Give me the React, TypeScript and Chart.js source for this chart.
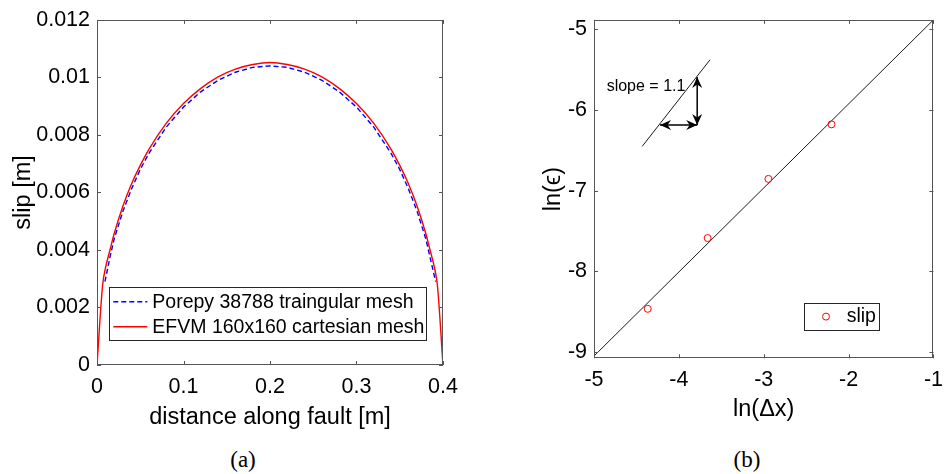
import React, { useEffect, useRef } from 'react';
import { Chart, registerables } from 'chart.js';
Chart.register(...registerables);

// ---------- (a) slip along fault ----------
const distRed = [0, 0.0065, 0.01, 0.015, 0.02, 0.03, 0.04, 0.05, 0.06, 0.08, 0.1, 0.12, 0.14, 0.16, 0.18, 0.2, 0.22, 0.24, 0.26, 0.28, 0.3, 0.32, 0.34, 0.35, 0.36, 0.37, 0.38, 0.385, 0.39, 0.3935, 0.4];
const slipRed = [0, 0.00278, 0.0034, 0.004, 0.00458, 0.00553, 0.0063, 0.00694, 0.0075, 0.0084, 0.00909, 0.00962, 0.01002, 0.01029, 0.01045, 0.01052, 0.01045, 0.01029, 0.01002, 0.00962, 0.00909, 0.0084, 0.0075, 0.00694, 0.0063, 0.00553, 0.00458, 0.004, 0.0034, 0.00278, 0];
const distBlue = [0.0092, 0.015, 0.02, 0.03, 0.04, 0.05, 0.06, 0.08, 0.1, 0.12, 0.14, 0.16, 0.18, 0.2, 0.22, 0.24, 0.26, 0.28, 0.3, 0.32, 0.34, 0.35, 0.36, 0.37, 0.38, 0.385, 0.3915];
const slipBlue = [0.0029, 0.00375, 0.0044, 0.00535, 0.00613, 0.0068, 0.00736, 0.00827, 0.00897, 0.0095, 0.0099, 0.01018, 0.01035, 0.0104, 0.01035, 0.01018, 0.0099, 0.0095, 0.00897, 0.00827, 0.00736, 0.0068, 0.00613, 0.00535, 0.0044, 0.00375, 0.0029];
const labelBlue = 'Porepy 38788 traingular mesh';
const labelRed = 'EFVM 160x160 cartesian mesh';
const xTicksA = [0, 0.1, 0.2, 0.3, 0.4];
const yTicksA = [0, 0.002, 0.004, 0.006, 0.008, 0.01, 0.012];

// ---------- (b) convergence ----------
const lnDx = [-4.367, -3.661, -2.945, -2.201];
const lnErr = [-8.463, -7.586, -6.853, -6.177];
const fitX = [-5, -1];
const fitY = [-9.048, -4.883];
const slopeLineX = [-4.432, -3.632];
const slopeLineY = [-6.45, -5.376];
const arrowHX = [-4.222, -3.784];
const arrowHY = [-6.186, -6.186];
const arrowVX = [-3.784, -3.784];
const arrowVY = [-6.186, -5.592];
const slopeText = 'slope = 1.1';
const slopeTextPos = [-4.851, -5.712];
const xTicksB = [-5, -4, -3, -2, -1];
const yTicksB = [-9, -8, -7, -6, -5];
const yRangeB = [-9.076, -4.883];

const AX = '#262626';
const BOX = '#555555';
const SANS = "'Liberation Sans', Arial, sans-serif";
const fmt = (v: any) => String(Number(Number(v).toFixed(6)));

const boxPlugin = {
  id: 'matlabBox',
  afterDatasetsDraw(chart: any) {
    const { ctx, chartArea, scales } = chart;
    const { left, top, right, bottom } = chartArea;
    ctx.save();
    ctx.strokeStyle = BOX;
    ctx.lineWidth = 1;
    ctx.strokeRect(Math.round(left) + 0.5, Math.round(top) + 0.5, Math.round(right - left) - 1, Math.round(bottom - top) - 1);
    ctx.beginPath();
    scales.x.ticks.forEach((t: any) => {
      const px = Math.round(scales.x.getPixelForValue(t.value)) + 0.5;
      ctx.moveTo(px, bottom); ctx.lineTo(px, bottom - 4);
      ctx.moveTo(px, top); ctx.lineTo(px, top + 4);
    });
    scales.y.ticks.forEach((t: any) => {
      const py = Math.round(scales.y.getPixelForValue(t.value)) + 0.5;
      ctx.moveTo(left, py); ctx.lineTo(left + 4, py);
      ctx.moveTo(right, py); ctx.lineTo(right - 4, py);
    });
    ctx.stroke();
    ctx.restore();
  },
};

const legendA = {
  id: 'legendA',
  afterDraw(chart: any) {
    const { ctx, chartArea } = chart;
    const l = chartArea.left + 12.3;
    const r = chartArea.right - 17;
    const b = chartArea.bottom - 25;
    const t = b - 53.3;
    ctx.save();
    ctx.fillStyle = '#ffffff';
    ctx.fillRect(l, t, r - l, b - t);
    ctx.strokeStyle = AX;
    ctx.lineWidth = 1;
    ctx.strokeRect(Math.round(l) + 0.5, Math.round(t) + 0.5, Math.round(r - l), Math.round(b - t));
    const ds = chart.data.datasets;
    const rows = [t + 15, t + 40];
    ds.forEach((d: any, i: number) => {
      const y = rows[i];
      ctx.beginPath();
      ctx.strokeStyle = d.borderColor;
      ctx.lineWidth = d.borderWidth;
      ctx.setLineDash(d.borderDash || []);
      ctx.moveTo(l + 4, y); ctx.lineTo(l + 38, y);
      ctx.stroke();
      ctx.setLineDash([]);
      ctx.fillStyle = '#000';
      ctx.font = `19.5px ${SANS}`;
      ctx.textBaseline = 'middle';
      ctx.textAlign = 'left';
      ctx.fillText(d.label, l + 43, y + 1);
    });
    ctx.restore();
  },
};

function head(ctx: any, tx: number, ty: number, dx: number, dy: number) {
  const L = 11, W = 5, N = 7.5;
  const px = -dy, py = dx;
  ctx.beginPath();
  ctx.moveTo(tx, ty);
  ctx.lineTo(tx - L * dx + W * px, ty - L * dy + W * py);
  ctx.lineTo(tx - N * dx, ty - N * dy);
  ctx.lineTo(tx - L * dx - W * px, ty - L * dy - W * py);
  ctx.closePath();
  ctx.fill();
}

function dblArrow(ctx: any, x1: number, y1: number, x2: number, y2: number) {
  const len = Math.hypot(x2 - x1, y2 - y1);
  const dx = (x2 - x1) / len, dy = (y2 - y1) / len;
  ctx.beginPath();
  ctx.moveTo(x1, y1); ctx.lineTo(x2, y2);
  ctx.stroke();
  head(ctx, x2, y2, dx, dy);
  head(ctx, x1, y1, -dx, -dy);
}

const annotB = {
  id: 'annotB',
  afterDraw(chart: any) {
    const { ctx, chartArea, scales } = chart;
    const X = (v: number) => scales.x.getPixelForValue(v);
    const Y = (v: number) => scales.y.getPixelForValue(v);
    ctx.save();
    ctx.strokeStyle = '#000';
    ctx.fillStyle = '#000';
    ctx.lineWidth = 1.5;
    dblArrow(ctx, X(arrowHX[0]), Y(arrowHY[0]), X(arrowHX[1]), Y(arrowHY[1]));
    dblArrow(ctx, X(arrowVX[0]), Y(arrowVY[0]), X(arrowVX[1]), Y(arrowVY[1]));
    ctx.font = `16px ${SANS}`;
    ctx.textBaseline = 'middle';
    ctx.textAlign = 'left';
    ctx.fillText(slopeText, X(slopeTextPos[0]), Y(slopeTextPos[1]));

    // legend
    const l = chartArea.left + 210.3;
    const t = chartArea.top + 282.7;
    const w = 74.7, h = 27.3;
    ctx.fillStyle = '#fff';
    ctx.fillRect(l, t, w, h);
    ctx.strokeStyle = AX;
    ctx.lineWidth = 1;
    ctx.strokeRect(Math.round(l) + 0.5, Math.round(t) + 0.5, Math.round(w), Math.round(h));
    const d = chart.data.datasets[0];
    ctx.beginPath();
    ctx.strokeStyle = d.borderColor;
    ctx.arc(l + 21.7, t + 14, d.pointRadius, 0, Math.PI * 2);
    ctx.stroke();
    ctx.fillStyle = '#000';
    ctx.font = `19.5px ${SANS}`;
    ctx.fillText(d.label, l + 42.4, t + 14.5);
    ctx.restore();
  },
};

function axisCfg(min: number, max: number, ticks: number[], fitSize: number, horiz: boolean, title: string, titlePad: any) {
  return {
    type: 'linear',
    min, max,
    afterBuildTicks: (s: any) => { s.ticks = ticks.map((v) => ({ value: v })); },
    afterFit: (s: any) => { if (horiz) s.height = fitSize; else s.width = fitSize; },
    grid: { display: false, drawTicks: false },
    border: { display: false },
    ticks: { font: { family: SANS, size: 21.5 }, color: '#000', padding: horiz ? 9 : 7, maxRotation: 0, autoSkip: false, callback: fmt },
    title: { display: true, text: title, font: { family: SANS, size: 23.5 }, color: '#000', padding: titlePad },
  };
}

export default function App() {
  const refA = useRef<HTMLCanvasElement>(null);
  const refB = useRef<HTMLCanvasElement>(null);

  useEffect(() => {
    const chartA = new Chart(refA.current as HTMLCanvasElement, {
      type: 'line',
      data: {
        datasets: [
          { label: labelBlue, data: distBlue.map((x, i) => ({ x, y: slipBlue[i] })), borderColor: '#0000ff', borderWidth: 1.4, borderDash: [5, 3], pointRadius: 0, tension: 0, fill: false },
          { label: labelRed, data: distRed.map((x, i) => ({ x, y: slipRed[i] })), borderColor: '#ff0000', borderWidth: 1.4, pointRadius: 0, tension: 0.3, cubicInterpolationMode: 'monotone', fill: false },
        ],
      },
      options: {
        animation: false, responsive: false, maintainAspectRatio: false, events: [],
        layout: { padding: { left: 0, top: 12, right: 33, bottom: 0 } },
        plugins: { legend: { display: false }, tooltip: { enabled: false } },
        scales: {
          x: axisCfg(0, 0.4, xTicksA, 75, true, 'distance along fault [m]', { top: 0, bottom: 8 }),
          y: axisCfg(0, 0.012, yTicksA, 97, false, 'slip [m]', { top: 9, bottom: 0 }),
        },
      } as any,
      plugins: [boxPlugin, legendA],
    } as any);

    const chartB = new Chart(refB.current as HTMLCanvasElement, {
      type: 'line',
      data: {
        datasets: [
          { label: 'slip', data: lnDx.map((x, i) => ({ x, y: lnErr[i] })), showLine: false, borderColor: '#ff0000', backgroundColor: 'rgba(0,0,0,0)', pointRadius: 3.5, pointBorderWidth: 1, pointStyle: 'circle' },
          { label: 'fit', data: fitX.map((x, i) => ({ x, y: fitY[i] })), borderColor: '#000', borderWidth: 0.9, pointRadius: 0, fill: false },
          { label: 'slopeLine', data: slopeLineX.map((x, i) => ({ x, y: slopeLineY[i] })), borderColor: '#000', borderWidth: 0.9, pointRadius: 0, fill: false },
        ],
      },
      options: {
        animation: false, responsive: false, maintainAspectRatio: false, events: [],
        layout: { padding: { left: 0, top: 9.3, right: 8.7, bottom: 0 } },
        plugins: { legend: { display: false }, tooltip: { enabled: false } },
        scales: {
          x: axisCfg(-5, -1, xTicksB, 81.7, true, 'ln(Δx)', { top: 0, bottom: 16.7 }),
          y: axisCfg(yRangeB[0], yRangeB[1], yTicksB, 64, false, 'ln(ϵ)', { top: 9.5, bottom: 0 }),
        },
      } as any,
      plugins: [boxPlugin, annotB],
    } as any);

    return () => { chartA.destroy(); chartB.destroy(); };
  }, []);

  const capStyle: React.CSSProperties = {
    position: 'absolute', top: 459, transform: 'translate(-50%, -50%)',
    fontFamily: "'Liberation Serif', 'Times New Roman', serif", fontSize: 23, lineHeight: 1, color: '#000', whiteSpace: 'nowrap',
  };

  return (
    <div style={{ position: 'fixed', left: 0, top: 0, width: 952, height: 474, background: '#fff', overflow: 'hidden' }}>
      <canvas ref={refA} width={476} height={440} style={{ position: 'absolute', left: 0, top: 0, width: 476, height: 440 }} />
      <canvas ref={refB} width={422} height={440} style={{ position: 'absolute', left: 530, top: 0, width: 422, height: 440 }} />
      <div style={{ ...capStyle, left: 243 }}>(a)</div>
      <div style={{ ...capStyle, left: 747 }}>(b)</div>
    </div>
  );
}
